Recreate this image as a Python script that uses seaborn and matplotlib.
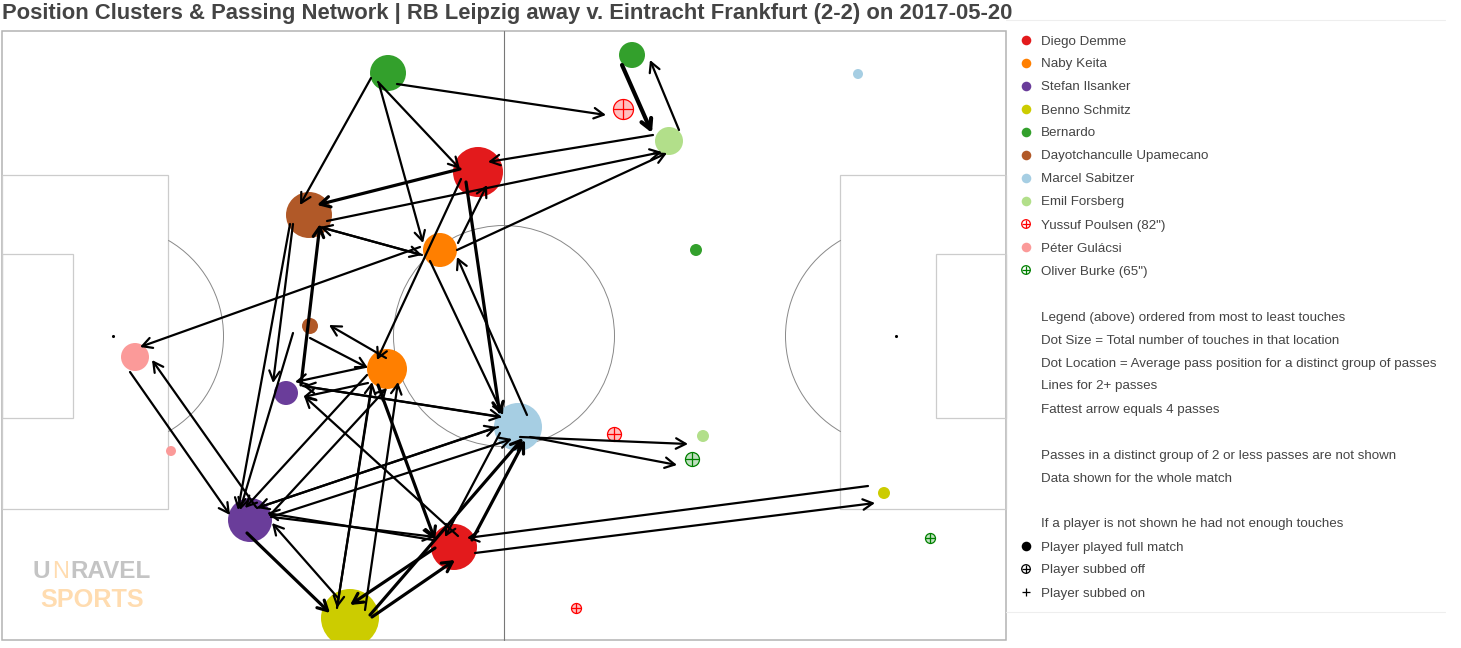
#!/usr/bin/env python3
"""
Position clusters and passing network, RB Leipzig away v. Frankfurt
"""
import matplotlib
matplotlib.use("Agg")
import matplotlib.pyplot as plt
import pandas as pd
import seaborn as sns
from matplotlib.patches import Arc, Circle, Rectangle

sns.set_style("white")
plt.rcParams['font.family'] = ['Liberation Sans', 'DejaVu Sans']

TITLE = "Position Clusters & Passing Network | RB Leipzig away v. Eintracht Frankfurt (2-2) on 2017-05-20"

# Player colours
player_names = ["Diego Demme", "Naby Keita", "Stefan Ilsanker", "Benno Schmitz", "Bernardo",
                "Dayotchanculle Upamecano", "Marcel Sabitzer", "Emil Forsberg",
                "Yussuf Poulsen (82\")", "Péter Gulácsi", "Oliver Burke (65\")"]
player_colors = ["#e31a1c", "#ff7f00", "#6a3d9a", "#cccc00", "#33a02c",
                 "#b15928", "#a6cee3", "#b2df8a", "#ff0000", "#fb9a99", "#008000"]

# Cluster dots, full match players (chart coordinates)
dot_player = ["Diego Demme", "Diego Demme", "Naby Keita", "Naby Keita", "Stefan Ilsanker", "Stefan Ilsanker",
              "Benno Schmitz", "Benno Schmitz", "Bernardo", "Bernardo", "Bernardo",
              "Dayotchanculle Upamecano", "Dayotchanculle Upamecano", "Marcel Sabitzer", "Marcel Sabitzer",
              "Emil Forsberg", "Emil Forsberg", "Péter Gulácsi", "Péter Gulácsi"]
dot_x = [478, 454, 440, 387, 250, 286, 350, 884, 388, 632, 696, 309, 310, 518, 858, 669, 703, 135, 171]
dot_y = [172, 547, 250, 369, 520, 393, 618, 493, 73, 55, 250, 215, 326, 427, 74, 141, 436, 357, 451]
dot_size = [25, 23, 17, 20, 22, 12, 29, 6, 18, 13, 6, 23, 8, 24, 5, 14, 6, 14, 5]

# Cluster dots, subs
sub_player = ["Yussuf Poulsen (82\")", "Yussuf Poulsen (82\")", "Yussuf Poulsen (82\")",
              "Oliver Burke (65\")", "Oliver Burke (65\")"]
sub_x = [623, 614, 576, 692, 930]
sub_y = [109, 434, 608, 459, 538]
sub_size = [10, 7, 5, 7, 5]

# Passing arrows: start, end, number of passes
arrow_x0 = [397, 371, 379, 378, 460, 327, 653, 422, 320, 430, 527, 420, 130, 256, 520, 530,
            461, 458, 310, 386, 365, 368, 500, 303, 458, 301, 293, 290, 293, 367, 270, 498, 257, 271,
            272, 433, 247, 338, 372, 337, 365, 370, 372, 435, 500, 472, 475, 868, 622, 679, 457, 466, 378]
arrow_y0 = [84, 78, 84, 82, 169, 221, 135, 255, 227, 261, 415, 247, 372, 507, 437, 437,
            179, 243, 338, 358, 367, 383, 417, 386, 536, 385, 224, 224, 333, 375, 515, 427, 508, 517,
            517, 540, 533, 598, 385, 608, 610, 615, 617, 548, 433, 540, 553, 486, 65, 130, 250, 182, 385]
arrow_x1 = [606, 300, 423, 460, 317, 662, 488, 320, 422, 503, 457, 140, 230, 152, 688, 677,
            377, 487, 368, 329, 295, 303, 303, 502, 304, 320, 273, 238, 240, 245, 387, 257, 497, 512,
            435, 267, 330, 272, 337, 372, 398, 523, 455, 350, 445, 525, 875, 467, 652, 650, 667, 500, 435]
arrow_y1 = [115, 205, 243, 169, 205, 152, 162, 227, 255, 415, 257, 347, 515, 360, 444, 465,
            360, 185, 368, 325, 382, 397, 386, 417, 396, 224, 383, 510, 510, 508, 388, 508, 427, 439,
            537, 513, 613, 523, 608, 382, 382, 438, 560, 605, 537, 440, 503, 538, 133, 60, 153, 415, 540]
arrow_passes = [2, 2, 2, 2, 3, 2, 2, 2, 2, 2, 2, 2, 2, 2, 2, 2,
                2, 2, 2, 2, 2, 2, 2, 2, 2, 3, 2, 2, 2, 2, 2, 2, 2, 2,
                2, 2, 3, 2, 2, 2, 2, 3, 3, 3, 2, 3, 2, 2, 4, 2, 2, 3, 3]

# Legend notes
note_rows = [316, 339, 362, 385, 408, 454, 477, 523, 546, 569, 592]
note_text = ["Legend (above) ordered from most to least touches",
             "Dot Size = Total number of touches in that location",
             "Dot Location = Average pass position for a distinct group of passes",
             "Lines for 2+ passes",
             "Fattest arrow equals 4 passes",
             "Passes in a distinct group of 2 or less passes are not shown",
             "Data shown for the whole match",
             "If a player is not shown he had not enough touches",
             "Player played full match",
             "Player subbed off",
             "Player subbed on"]

TEXT = '#444444'
LINE = '#cccccc'
color_of = dict(zip(player_names, player_colors))


def area(radius):
    # pixel radius to marker area in points^2
    return (2 * radius * 0.72) ** 2


fig = plt.figure(figsize=(14.61, 6.48), dpi=100)
ax = fig.add_axes([0, 0, 1, 1])
ax.set_xlim(0, 1461)
ax.set_ylim(648, 0)
ax.axis('off')

# Pitch
pitch = Rectangle((2, 31), 1004, 609, fc='none', ec='#b3b3b3', lw=1.1, zorder=1)
ax.add_patch(pitch)
ax.plot([504, 504], [31, 640], color='#777777', lw=0.8, zorder=1)
for x, w in [(2, 166), (840, 166)]:
    ax.add_patch(Rectangle((x, 175), w, 334, fc='none', ec=LINE, lw=0.9, zorder=1))
for x, w in [(2, 71), (936, 70)]:
    ax.add_patch(Rectangle((x, 254), w, 164, fc='none', ec=LINE, lw=0.9, zorder=1))
ax.add_patch(Circle((504, 336), 110.5, fc='none', ec='#888888', lw=0.7, zorder=1))
ax.add_patch(Arc((113, 336), 221, 221, theta1=-60, theta2=60, ec='#888888', lw=0.7, zorder=1))
ax.add_patch(Arc((896, 336), 221, 221, theta1=120, theta2=240, ec='#888888', lw=0.7, zorder=1))
ax.scatter([113, 896], [336, 336], s=5, color='black', linewidths=0, zorder=2)

# Legend separators
ax.plot([1006, 1445], [20, 20], color='#eeeeee', lw=0.8)
ax.plot([1006, 1445], [612, 612], color='#eeeeee', lw=0.8)

# Logo
ax.text(33, 572, "U", fontsize=17.5, fontweight='bold', color='#c4c4c4', va='center', ha='left')
ax.text(52, 572, "N", fontsize=17, color='#ffdcb0', va='center', ha='left')
ax.text(70, 572, "RAVEL", fontsize=17.5, fontweight='bold', color='#c4c4c4', va='center', ha='left')
ax.text(40, 600, "SPORTS", fontsize=18.2, fontweight='bold', color='#ffdcb0', va='center', ha='left')

# Dots
dots = pd.DataFrame({'x': dot_x, 'y': dot_y, 'player': dot_player, 'size': dot_size})
sns.scatterplot(data=dots, x='x', y='y', hue='player', palette=color_of, size='size',
                sizes={r: area(r) for r in set(dot_size)}, linewidth=0, legend=False,
                ax=ax, zorder=3, clip_on=True)
ax.collections[-1].set_clip_path(pitch)

for x, y, r, name in zip(sub_x, sub_y, sub_size, sub_player):
    c = color_of[name]
    ax.scatter([x], [y], s=area(r), facecolor=matplotlib.colors.to_rgba(c, 0.25), edgecolor=c,
               linewidths=0.9, zorder=3)
    ax.scatter([x], [y], s=area(r), marker='+', color=c, linewidths=0.9, zorder=3)

# Arrows
width_of = {2: 1.6, 3: 2.3, 4: 3.0}
for x0, y0, x1, y1, n in zip(arrow_x0, arrow_y0, arrow_x1, arrow_y1, arrow_passes):
    ax.annotate('', xy=(x1, y1), xytext=(x0, y0), zorder=4,
                arrowprops=dict(arrowstyle='->,head_length=0.5,head_width=0.27', color='black',
                                lw=width_of[n], shrinkA=0, shrinkB=0, mutation_scale=14))

# Title
ax.text(2, 14, TITLE, fontsize=15.87, fontweight='bold', color=TEXT, va='center', ha='left')

# Legend
for i, (name, c) in enumerate(zip(player_names, player_colors)):
    y = 40 + 23 * i
    if name in sub_player:
        ax.scatter([1026], [y], s=area(4.3), facecolor='none', edgecolor=c, linewidths=0.9)
        ax.scatter([1026], [y], s=area(4.3), marker='+', color=c, linewidths=0.9)
    else:
        ax.scatter([1026], [y], s=area(4.8), color=c, linewidths=0)
    ax.text(1041, y + 1.5, name, fontsize=9.6, color=TEXT, va='center', ha='left')

for y, t in zip(note_rows, note_text):
    ax.text(1041, y + 1.5, t, fontsize=9.6, color=TEXT, va='center', ha='left')

ax.scatter([1026], [546], s=area(4.8), color='black', linewidths=0)
ax.scatter([1026], [569], s=area(4.3), facecolor='none', edgecolor='black', linewidths=0.9)
ax.scatter([1026], [569], s=area(4.3), marker='+', color='black', linewidths=0.9)
ax.scatter([1026], [592], s=area(4.3), marker='+', color='black', linewidths=0.9)

fig.savefig('out.png', dpi=100)
